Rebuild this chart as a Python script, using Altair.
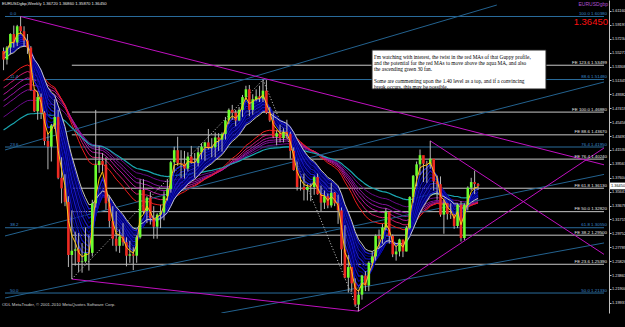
import altair as alt
import pandas as pd

# ---------------- data ----------------
# weekly closes before the visible window (warm-up for the moving averages)
hist_close = [1.2990, 1.2940, 1.2960, 1.2990, 1.2990, 1.3090, 1.3140, 1.3240,
              1.3180, 1.3130, 1.3310, 1.3340, 1.3350, 1.3450, 1.3520, 1.3570, 1.3630,
              1.3580, 1.3520, 1.3510, 1.3470, 1.3460, 1.3360, 1.3420, 1.3480,
              1.3530, 1.3620, 1.3780, 1.3800, 1.3700, 1.3780, 1.3690, 1.3440, 1.3560,
              1.3660, 1.3870, 1.3970, 1.4100, 1.4220, 1.4180, 1.4300, 1.4460, 1.4500,
              1.4620, 1.4660, 1.4840, 1.4830, 1.4720, 1.4590, 1.4440, 1.4370, 1.4590,
              1.4750, 1.4770, 1.4630, 1.4650, 1.4820, 1.4510, 1.4650, 1.5150,
              1.5350, 1.5660, 1.5650, 1.5430, 1.5780, 1.5810, 1.5920, 1.5690, 1.5580,
              1.5440, 1.5500, 1.5750, 1.5550]

first_index = -1  # bar 0 = week of 15 Jun 2008
close = [1.5430, 1.5600, 1.5790, 1.5670, 1.5900, 1.5830, 1.5700, 1.5600, 1.5000, 1.4700,
         1.4900, 1.4680, 1.4280, 1.4200, 1.4500, 1.4620, 1.3760, 1.3610, 1.3420, 1.2670,
         1.2730, 1.2750, 1.2570, 1.2580, 1.2700, 1.2700, 1.3400, 1.3940, 1.4000, 1.3950,
         1.3400, 1.3150, 1.2900, 1.2800, 1.2930, 1.2850, 1.2660, 1.2680, 1.2660, 1.2920,
         1.3590, 1.3290, 1.3480, 1.3190, 1.3070, 1.3240, 1.3270, 1.3500, 1.3600, 1.3980,
         1.4150, 1.3970, 1.3960, 1.3890, 1.4060, 1.3970, 1.3970, 1.4120, 1.4200, 1.4260,
         1.4180, 1.4190, 1.4330, 1.4300, 1.4380, 1.4570, 1.4720, 1.4680, 1.4570, 1.4720,
         1.4900, 1.5010, 1.4720, 1.4870, 1.4910, 1.4880, 1.4990, 1.4680, 1.4570, 1.4340,
         1.4390, 1.4320, 1.4410, 1.4380, 1.4140, 1.3870, 1.3630, 1.3630, 1.3590, 1.3630,
         1.3630, 1.3770, 1.3530, 1.3410, 1.3500, 1.3370, 1.3550, 1.3400, 1.3300, 1.2750,
         1.2350, 1.2500, 1.2270, 1.1970, 1.2110, 1.2380, 1.2240, 1.2560, 1.2650, 1.2940,
         1.2900, 1.3060, 1.3280, 1.2940, 1.2680, 1.2720, 1.2890, 1.2720, 1.3050, 1.3490,
         1.3790, 1.3950, 1.4080, 1.3960, 1.3950, 1.4030, 1.3710, 1.3670, 1.3240, 1.3400,
         1.3250, 1.3240, 1.3080, 1.3380, 1.2910, 1.3380, 1.3620, 1.3700, 1.3672, 1.3645]
high = [1.5600, 1.5620, 1.5800, 1.5910, 1.5920, 1.6038, 1.5900, 1.5790, 1.5620, 1.5020,
        1.4980, 1.4950, 1.4700, 1.4390, 1.4520, 1.4870, 1.4720, 1.4050, 1.3810, 1.3500,
        1.3300, 1.3000, 1.2980, 1.2840, 1.3060, 1.2940, 1.3450, 1.4719, 1.4210, 1.4110,
        1.4050, 1.3510, 1.3360, 1.3290, 1.3030, 1.3120, 1.2920, 1.2870, 1.2780, 1.2950,
        1.3740, 1.3740, 1.3500, 1.3560, 1.3360, 1.3260, 1.3380, 1.3570, 1.3740, 1.4000,
        1.4200, 1.4340, 1.4150, 1.4140, 1.4120, 1.4210, 1.4110, 1.4190, 1.4250, 1.4270,
        1.4450, 1.4320, 1.4400, 1.4390, 1.4400, 1.4620, 1.4740, 1.4790, 1.4720, 1.4760,
        1.4930, 1.5060, 1.5070, 1.4940, 1.5010, 1.5060, 1.5145, 1.5140, 1.4760, 1.4680,
        1.4430, 1.4510, 1.4460, 1.4580, 1.4410, 1.4190, 1.3990, 1.3780, 1.3820, 1.3670,
        1.3680, 1.3790, 1.3820, 1.3650, 1.3580, 1.3540, 1.3690, 1.3560, 1.3520, 1.3340,
        1.3090, 1.2670, 1.2460, 1.2340, 1.2180, 1.2390, 1.2440, 1.2580, 1.2720, 1.2960,
        1.3030, 1.3110, 1.3330, 1.3260, 1.2960, 1.2800, 1.2900, 1.2840, 1.3080, 1.3500,
        1.3800, 1.3990, 1.4160, 1.4050, 1.4000, 1.4282, 1.4010, 1.3790, 1.3780, 1.3460,
        1.3400, 1.3400, 1.3250, 1.3400, 1.3430, 1.3400, 1.3640, 1.3760, 1.3860, 1.3686]
low = [1.5280, 1.5360, 1.5500, 1.5600, 1.5620, 1.5790, 1.5610, 1.5510, 1.4990, 1.4690,
       1.4580, 1.4590, 1.4220, 1.3880, 1.3990, 1.4450, 1.3740, 1.3400, 1.3360, 1.2500,
       1.2330, 1.2520, 1.2430, 1.2420, 1.2560, 1.2450, 1.2650, 1.3340, 1.3830, 1.3850,
       1.3310, 1.3060, 1.2800, 1.2720, 1.2700, 1.2800, 1.2510, 1.2560, 1.2457, 1.2560,
       1.2900, 1.3250, 1.3120, 1.3100, 1.2900, 1.2900, 1.3050, 1.3160, 1.3440, 1.3550,
       1.3840, 1.3930, 1.3760, 1.3750, 1.3850, 1.3960, 1.3760, 1.3920, 1.4020, 1.4000,
       1.4160, 1.4050, 1.4050, 1.4140, 1.4130, 1.4300, 1.4520, 1.4580, 1.4490, 1.4560,
       1.4620, 1.4860, 1.4630, 1.4650, 1.4840, 1.4830, 1.4830, 1.4660, 1.4550, 1.4320,
       1.4220, 1.4260, 1.4260, 1.4320, 1.4030, 1.3860, 1.3580, 1.3580, 1.3440, 1.3440,
       1.3430, 1.3520, 1.3520, 1.3290, 1.3320, 1.3330, 1.3340, 1.3360, 1.3110, 1.2520,
       1.2340, 1.2140, 1.2150, 1.1940, 1.1876, 1.2040, 1.2160, 1.2160, 1.2520, 1.2590,
       1.2770, 1.2830, 1.3020, 1.2830, 1.2640, 1.2590, 1.2650, 1.2640, 1.2720, 1.3030,
       1.3410, 1.3640, 1.3800, 1.3700, 1.3690, 1.3890, 1.3580, 1.3450, 1.3210, 1.2970,
       1.3170, 1.3180, 1.3040, 1.3050, 1.2860, 1.2880, 1.3300, 1.3580, 1.3530, 1.3587]

date_labels = ["15 Jun 2008", "10 Aug 2008", "5 Oct 2008", "30 Nov 2008", "25 Jan 2009",
               "22 Mar 2009", "17 May 2009", "12 Jul 2009", "6 Sep 2009", "1 Nov 2009",
               "27 Dec 2009", "21 Feb 2010", "18 Apr 2010", "13 Jun 2010", "8 Aug 2010",
               "3 Oct 2010", "28 Nov 2010", "23 Jan 2011"]
date_tick_bars = [0, 8, 16, 24, 32, 40, 48, 56, 64, 72, 80, 88, 96, 104, 112, 120, 128, 136]

price_ticks = [1.61160, 1.59197, 1.57234, 1.55271, 1.53308, 1.51345, 1.49382, 1.47419,
               1.45456, 1.43493, 1.41530, 1.39567, 1.37604, 1.35641, 1.33678, 1.31715,
               1.29752, 1.27789, 1.25826, 1.23863, 1.21900, 1.19937]

# Fibonacci expansion levels (from bar 19)
fe_names = ["FE 123.6", "FE 100.0", "FE 88.6", "FE 76.4", "FE 61.8", "FE 50.0", "FE 38.2", "FE 23.6"]
fe_prices = [1.53499, 1.46880, 1.43670, 1.40240, 1.36130, 1.32820, 1.29500, 1.25390]
fe_start_bar = 19
# Fibonacci retracement levels
fib_names = ["100.0", "88.6", "76.4", "61.8", "50.0"]
fib_left = ["0.0", "11.4", "23.6", "38.2", "50.0"]
fib_prices = [1.60380, 1.51480, 1.41950, 1.30550, 1.21330]

# trend lines: (bar, price) -> (bar, price)
tl_kind = ["magenta", "magenta", "magenta", "magenta", "blue", "blue", "blue", "blue", "dots", "dots"]
tl_i1 = [4, 19, 103, 124, -0.576, -0.576, -0.576, 62.8, 19, 75]
tl_p1 = [1.6038, 1.2330, 1.1876, 1.4282, 1.4153, 1.2939, 1.2063, 1.1851, 1.2330, 1.5145]
tl_i2 = [174.9, 103, 174.9, 174.9, 143.5, 174.9, 174.9, 174.9, 75, 103]
tl_p2 = [1.3944, 1.1876, 1.4181, 1.2679, 1.6200, 1.5113, 1.3808, 1.2840, 1.5145, 1.1876]

note_lines = ["I'm watching with interest, the twist in the red MAs of that Guppy profile,",
              "and the potential for the red MAs to move above the aqua MA, and also",
              "the ascending green 30 fan.",
              "",
              "Some are commenting upon the 1.40 level as a top, and if a convincing",
              "break occurs, this may be possible."]

long_periods = [60, 50, 45, 40, 35, 30]
long_colors = ["#6a0a8a", "#82109a", "#9a14a6", "#b4189e", "#d0186e", "#f01c1c"]
aqua_period = 75
fan_periods = [14, 13, 12, 11, 10, 9, 8, 7, 6, 5, 4]
fan_colors = ["#1a1ad0", "#00007a", "#1010b0", "#000070", "#1818c0", "#000088",
              "#1414c8", "#000078", "#1010b8", "#00008a", "#2020d8"]
white_period = 15
yellow_period = 3

# ---------------- geometry ----------------
W, H = 609, 313
X0, X1 = -0.576, 174.9
Y0, Y1 = 1.1851, 1.6271
FONT = "Liberation Sans"

xs = alt.Scale(domain=[X0, X1], nice=False, zero=False)
ys = alt.Scale(domain=[Y0, Y1], nice=False, zero=False)

n = len(close)
idx = list(range(first_index, first_index + n))
opens = [hist_close[-1]] + close[:-1]
bars = pd.DataFrame({"i": idx, "o": opens, "h": high, "l": low, "c": close})

allc = pd.Series(hist_close + close)
k0 = len(hist_close)


def ma_layers(periods, colors, width=1.0):
    out = []
    for p, col in zip(periods, colors):
        e = allc.ewm(span=p, adjust=False).mean().iloc[k0:].tolist()
        df = pd.DataFrame({"i": idx, "v": e})
        out.append(alt.Chart(df).mark_line(strokeWidth=width, color=col, clip=True).encode(
            x=alt.X("i:Q", scale=xs, axis=None),
            y=alt.Y("v:Q", scale=ys, axis=None),
            order=alt.Order("i:Q")))
    return out


js_dates = "[" + ",".join(f"'{d}'" for d in date_labels) + "]"
xaxis = alt.Axis(values=date_tick_bars, labelExpr=f"{js_dates}[round(datum.value/8)]",
                 labelAlign="left", labelColor="#e0e0e0", labelFontSize=4.4, labelFont=FONT,
                 tickColor="#c0c0c0", tickSize=3, domainColor="#c0c0c0", labelPadding=1,
                 grid=False, title=None, labelOverlap=False, labelFlush=False)
yaxis = alt.Axis(values=price_ticks, format=".5f", orient="right", labelColor="#e0e0e0",
                 labelFontSize=3.9, labelFont=FONT, tickColor="#c0c0c0", tickSize=2,
                 domainColor="#c0c0c0", labelPadding=0.5, grid=False, title=None,
                 labelOverlap=False, labelFlush=False)

# horizontal level lines
fe_df = pd.DataFrame({"p": fe_prices, "name": fe_names, "i1": fe_start_bar, "i2": X1})
fe_df["label"] = [f"{a} {b:.5f}" for a, b in zip(fe_names, fe_prices)]
fib_df = pd.DataFrame({"p": fib_prices, "name": fib_names, "left": fib_left, "i1": X0, "i2": X1})
fib_df["label"] = [f"{a} {b:.5f}" for a, b in zip(fib_names, fib_prices)]

fe_lines = alt.Chart(fe_df).mark_rule(color="#c8c8c8", strokeWidth=1).encode(
    x=alt.X("i1:Q", scale=xs, axis=xaxis), x2="i2:Q",
    y=alt.Y("p:Q", scale=ys, axis=yaxis))
fib_lines = alt.Chart(fib_df).mark_rule(color="#2a6c9c", strokeWidth=1).encode(
    x=alt.X("i1:Q", scale=xs, axis=None), x2="i2:Q",
    y=alt.Y("p:Q", scale=ys, axis=None))

fe_text = alt.Chart(fe_df).mark_text(align="right", baseline="bottom", dy=-0.5, fontSize=4.4,
                                     font=FONT, color="#e8e8e8").encode(
    x=alt.value(607), y=alt.Y("p:Q", scale=ys, axis=None), text="label:N")
fib_text = alt.Chart(fib_df).mark_text(align="right", baseline="bottom", dy=-0.5, fontSize=4.4,
                                       font=FONT, color="#3a8ad0").encode(
    x=alt.value(607), y=alt.Y("p:Q", scale=ys, axis=None), text="label:N")
fib_ltext = alt.Chart(fib_df).mark_text(align="left", baseline="bottom", dy=-0.5, fontSize=4.4,
                                        font=FONT, color="#3a8ad0").encode(
    x=alt.value(10), y=alt.Y("p:Q", scale=ys, axis=None), text="left:N")

tl_df = pd.DataFrame({"k": tl_kind, "i1": tl_i1, "p1": tl_p1, "i2": tl_i2, "p2": tl_p2})
tl_colors = {"magenta": "#c010c0", "blue": "#23628f", "dots": "#d0d0d0"}


def tl_layer(kind, dash=None):
    m = alt.Chart(tl_df[tl_df.k == kind]).mark_rule(
        color=tl_colors[kind], strokeWidth=1, clip=True,
        **({"strokeDash": dash} if dash else {}))
    return m.encode(x=alt.X("i1:Q", scale=xs, axis=None), x2="i2:Q",
                    y=alt.Y("p1:Q", scale=ys, axis=None), y2="p2:Q")


# moving averages
long_l = ma_layers(long_periods, long_colors, 1.0)
aqua_l = ma_layers([aqua_period], ["#1aa6b0"], 1.2)
fan_l = ma_layers(fan_periods, fan_colors, 1.3)
white_l = ma_layers([white_period], ["#c8c8c8"], 1.0)
yellow_l = ma_layers([yellow_period], ["#ffc41a"], 1.0)

# candles
wick = alt.Chart(bars).mark_rule(color="#b8b8b8", strokeWidth=1, clip=True).encode(
    x=alt.X("i:Q", scale=xs, axis=None), y=alt.Y("l:Q", scale=ys, axis=None), y2="h:Q")
body_up = alt.Chart(bars[bars.c >= bars.o]).mark_bar(size=2.6, clip=True, color="#6cff2e").encode(
    x=alt.X("i:Q", scale=xs, axis=None), y=alt.Y("o:Q", scale=ys, axis=None), y2="c:Q")
body_dn = alt.Chart(bars[bars.c < bars.o]).mark_bar(size=2.6, clip=True, color="#ee2a22").encode(
    x=alt.X("i:Q", scale=xs, axis=None), y=alt.Y("o:Q", scale=ys, axis=None), y2="c:Q")

one = pd.DataFrame({"a": [0]})
note_box = alt.Chart(one).mark_rect(fill="white", stroke="#202020", strokeWidth=1).encode(
    x=alt.value(372), x2=alt.value(546), y=alt.value(50), y2=alt.value(89))
note_df = pd.DataFrame({"t": note_lines, "row": list(range(len(note_lines)))})
note_text = alt.Chart(note_df).mark_text(align="left", baseline="top", fontSize=5.3,
                                         font="Liberation Serif", color="black").encode(
    x=alt.value(374), y=alt.Y("row:O", scale=alt.Scale(range=[52, 88]), axis=None), text="t:N")

cur_price = close[-1]
cur_df = pd.DataFrame({"p": [cur_price], "t": [f"{cur_price:.5f}"]})
cur_box = alt.Chart(cur_df).mark_point(
    shape="M-1,-0.45L1,-0.45L1,0.45L-1,0.45Z", size=225, filled=True, fill="white",
    opacity=1).encode(x=alt.value(617.5), y=alt.Y("p:Q", scale=ys, axis=None))
cur_text = alt.Chart(cur_df).mark_text(align="left", baseline="middle", fontSize=3.9, font=FONT,
                                       color="black").encode(
    x=alt.value(611), y=alt.Y("p:Q", scale=ys, axis=None), text="t:N")
big_price = alt.Chart(cur_df).mark_text(align="right", baseline="top", fontSize=9.5, font=FONT,
                                        color="#ff1010").encode(
    x=alt.value(608), y=alt.value(17), text="t:N")

title_df = pd.DataFrame({"t": [f"EURUSDgbp,Weekly  {opens[-1]:.5f} {high[-1]:.5f} {low[-1]:.5f} {close[-1]:.5f}"]})
title_t = alt.Chart(title_df).mark_text(align="left", baseline="top", fontSize=4.2, font=FONT,
                                        color="#e8e8e8").encode(x=alt.value(2), y=alt.value(2), text="t:N")
sym_t = alt.Chart(pd.DataFrame({"t": ["EURUSDgbp"]})).mark_text(
    align="right", baseline="top", fontSize=5, font=FONT, color="#b050d0").encode(
    x=alt.value(608), y=alt.value(2), text="t:N")
copy_t = alt.Chart(pd.DataFrame({"t": ["ODL MetaTrader, \u00a9 2001-2010 MetaQuotes Software Corp."]})).mark_text(
    align="left", baseline="top", fontSize=4.3, font=FONT, color="#d0d0d0").encode(
    x=alt.value(2), y=alt.value(303), text="t:N")

chart = alt.layer(
    fe_lines, fib_lines,
    *long_l, *aqua_l,
    tl_layer("blue"), tl_layer("magenta"), tl_layer("dots", [1, 2]),
    *fan_l, *white_l,
    wick, body_up, body_dn, *yellow_l,
    fe_text, fib_text, fib_ltext,
    note_box, note_text,
    cur_box, cur_text, big_price, title_t, sym_t, copy_t,
).properties(
    width=W, height=H, padding={"left": 0, "top": 0, "right": 16, "bottom": 14},
    autosize=alt.AutoSizeParams(type="none"), background="black",
).configure_view(stroke=None, fill="black")

chart.save("out.html", embed_options={"renderer": "svg", "actions": False})
